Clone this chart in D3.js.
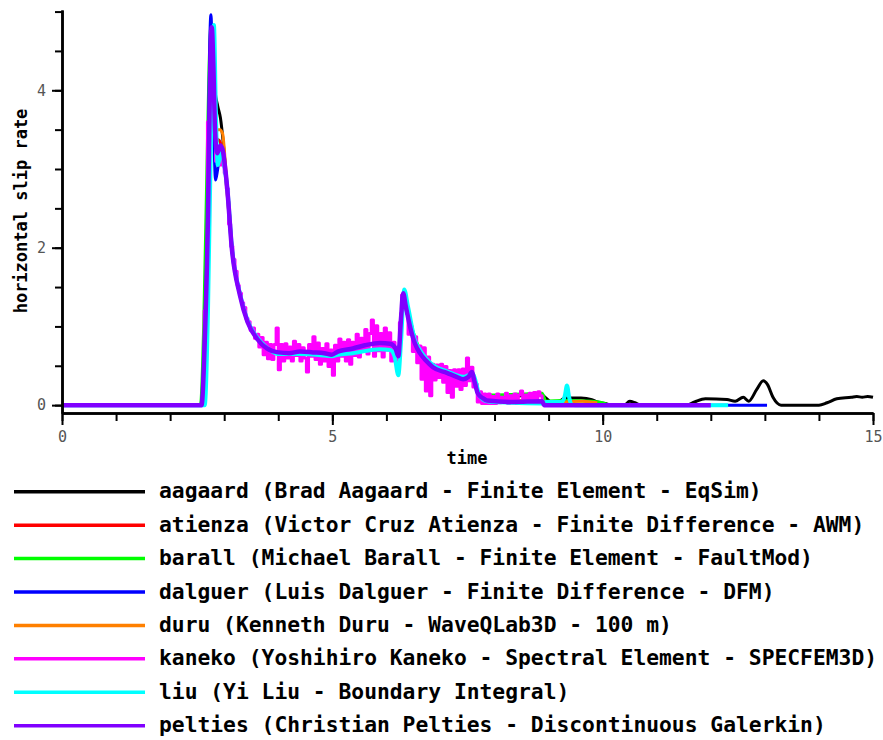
<!DOCTYPE html>
<html>
<head>
<meta charset="utf-8">
<script src="https://cdn.jsdelivr.net/npm/d3@7"></script>
<style>
  body { margin: 0; background: #fff; }
  svg { display: block; }
  text { font-family: "DejaVu Sans Mono", "Liberation Mono", monospace; }
</style>
</head>
<body>
<svg id="chart" width="883" height="740"></svg>
<script>
// ---- series names (legend order) ----
const seriesNames = [
  "aagaard (Brad Aagaard - Finite Element - EqSim)",
  "atienza (Victor Cruz Atienza - Finite Difference - AWM)",
  "barall (Michael Barall - Finite Element - FaultMod)",
  "dalguer (Luis Dalguer - Finite Difference - DFM)",
  "duru (Kenneth Duru - WaveQLab3D - 100 m)",
  "kaneko (Yoshihiro Kaneko - Spectral Element - SPECFEM3D)",
  "liu (Yi Liu - Boundary Integral)",
  "pelties (Christian Pelties - Discontinuous Galerkin)"
];

// ---- axis ticks ----
const xMajorTicks = [0, 5, 10, 15];
const xMinorTicks = [0,1,2,3,4,5,6,7,8,9,10,11,12,13,14,15];
const yMajorTicks = [0, 2, 4];
const yMinorTicks = [0, 0.5, 1, 1.5, 2, 2.5, 3, 3.5, 4, 4.5, 5];

// ---- horizontal slip rate time histories ----
const aagaardT = [0, 2.60, 2.66, 2.71, 2.75, 2.78, 2.83, 2.88, 2.93, 2.98, 3.03, 3.08, 3.14, 3.29, 3.43, 3.61, 3.79, 4.0, 4.4, 4.85,
  4.99, 5.1, 5.38, 5.88, 6.07, 6.17, 6.22, 6.27, 6.31, 6.36, 6.44, 6.53, 6.62, 6.74, 6.86, 7.12, 7.42, 7.52, 7.58, 7.63,
  7.69, 7.78, 7.86, 8.3, 8.6, 8.85, 8.95, 9.05, 9.2, 9.3, 9.6, 9.8, 9.9, 10.05, 10.15, 10.4, 10.5, 10.6, 10.7, 11.55,
  11.7, 11.9, 12.3, 12.45, 12.6, 12.7, 12.85, 12.97, 13.05, 13.15, 13.3, 14.0, 14.15, 14.33, 14.6, 14.7, 14.8, 14.9, 15.0];
const aagaardV = [0, 0, 1.3, 3.2, 4.5, 4.7, 4.0, 3.8, 3.65, 3.35, 2.95, 2.6, 2.05, 1.42, 1.07, 0.85, 0.73, 0.67, 0.68, 0.66,
  0.64, 0.68, 0.72, 0.79, 0.78, 0.72, 0.62, 1.1, 1.42, 1.25, 0.99, 0.78, 0.66, 0.56, 0.48, 0.41, 0.33, 0.36, 0.42, 0.30,
  0.15, 0.10, 0.08, 0.10, 0.13, 0.14, 0.09, 0.04, 0.05, 0.09, 0.09, 0.07, 0.04, 0.02, 0, 0, 0.05, 0.03, 0, 0,
  0.04, 0.08, 0.07, 0.05, 0.10, 0.05, 0.20, 0.31, 0.26, 0.10, 0, 0, 0.03, 0.08, 0.10, 0.11, 0.10, 0.11, 0.10];

const atienzaT = [0, 2.59, 2.65, 2.71, 2.76, 2.80, 2.85, 2.92, 2.98, 3.04, 3.14, 3.29, 3.43, 3.61, 3.79, 4.0, 4.4, 4.85, 4.99, 5.1,
  5.38, 5.88, 6.07, 6.17, 6.22, 6.27, 6.31, 6.36, 6.44, 6.53, 6.62, 6.74, 6.86, 7.12, 7.42, 7.52, 7.58, 7.63, 7.69, 7.78,
  8.0, 8.5, 8.9];
const atienzaV = [0, 0, 1.1, 3.0, 4.7, 4.2, 3.4, 3.35, 3.2, 2.8, 2.0, 1.41, 1.06, 0.85, 0.73, 0.67, 0.68, 0.66, 0.64, 0.68,
  0.72, 0.79, 0.78, 0.72, 0.62, 1.1, 1.41, 1.25, 0.99, 0.79, 0.67, 0.57, 0.49, 0.41, 0.34, 0.37, 0.42, 0.30, 0.15, 0.09,
  0.07, 0.06, 0.05];

const barallT = [0, 2.56, 2.62, 2.68, 2.72, 2.76, 2.80, 2.84, 2.88, 2.93, 2.98, 3.03, 3.06, 3.14, 3.29, 3.43, 3.61, 3.79, 4.0, 4.4,
  4.85, 4.99, 5.1, 5.38, 5.88, 6.07, 6.17, 6.22, 6.27, 6.31, 6.36, 6.44, 6.53, 6.62, 6.74, 6.86, 7.12, 7.42, 7.52, 7.58,
  7.63, 7.69, 7.78, 8.0, 8.5, 8.88, 8.95, 9.3, 9.8, 10.05, 10.1];
const barallV = [0, 0, 1.0, 3.0, 4.3, 4.85, 4.2, 3.5, 3.2, 3.3, 3.2, 2.95, 2.72, 2.0, 1.42, 1.07, 0.85, 0.73, 0.67, 0.68,
  0.66, 0.64, 0.68, 0.72, 0.78, 0.77, 0.72, 0.63, 1.1, 1.40, 1.28, 1.05, 0.86, 0.70, 0.58, 0.50, 0.42, 0.34, 0.37, 0.42,
  0.31, 0.17, 0.13, 0.13, 0.14, 0.15, 0.05, 0.06, 0.05, 0.02, 0];

const dalguerT = [0, 2.58, 2.64, 2.70, 2.73, 2.755, 2.79, 2.84, 2.88, 2.93, 2.98, 3.03, 3.06, 3.14, 3.29, 3.43, 3.61, 3.79, 4.0, 4.4,
  4.85, 4.99, 5.1, 5.38, 5.88, 6.07, 6.17, 6.22, 6.27, 6.31, 6.36, 6.44, 6.53, 6.62, 6.74, 6.86, 7.12, 7.42, 7.52, 7.58,
  7.63, 7.69, 7.78, 7.86, 8.34, 8.9, 9.0, 13.04];
const dalguerV = [0, 0, 1.0, 2.7, 4.5, 4.96, 4.0, 2.86, 3.0, 3.2, 3.1, 2.9, 2.72, 2.0, 1.40, 1.06, 0.84, 0.72, 0.67, 0.68,
  0.66, 0.64, 0.68, 0.72, 0.79, 0.78, 0.72, 0.62, 1.1, 1.42, 1.25, 0.99, 0.78, 0.66, 0.56, 0.48, 0.41, 0.33, 0.36, 0.42,
  0.30, 0.15, 0.09, 0.06, 0.04, 0.02, 0, 0];

const duruT = [0, 2.60, 2.66, 2.72, 2.77, 2.81, 2.85, 2.92, 2.97, 3.03, 3.08, 3.14, 3.29, 3.43, 3.61, 3.79, 4.0, 4.4, 4.85, 4.99,
  5.1, 5.38, 5.88, 6.07, 6.17, 6.22, 6.27, 6.31, 6.36, 6.44, 6.53, 6.62, 6.74, 6.86, 7.12, 7.42, 7.52, 7.58, 7.63, 7.69,
  7.78, 8.0, 8.5, 8.9, 9.3, 9.63, 9.9];
const duruV = [0, 0, 1.2, 3.4, 4.75, 4.47, 3.5, 3.5, 3.45, 3.0, 2.6, 2.02, 1.43, 1.07, 0.85, 0.73, 0.67, 0.68, 0.66, 0.64,
  0.68, 0.72, 0.79, 0.78, 0.72, 0.62, 1.1, 1.42, 1.25, 0.99, 0.79, 0.67, 0.57, 0.49, 0.41, 0.34, 0.37, 0.42, 0.30, 0.15,
  0.09, 0.07, 0.06, 0.05, 0.04, 0.05, 0.03];

// kaneko: rupture front samples, then an evenly sampled noisy record
const kanekoHeadT = [0, 2.60, 2.66, 2.72, 2.77, 2.82, 2.86, 2.90, 2.94, 2.98, 3.02, 3.06, 3.10, 3.14, 3.18, 3.22, 3.26];
const kanekoHeadV = [0, 0, 1.2, 3.6, 4.75, 3.9, 3.10, 3.25, 3.05, 3.20, 2.95, 2.75, 2.30, 2.02, 1.85, 1.70, 1.52];
const kanekoStart = 3.30;
const kanekoStep = 0.04;
const kanekoV = [
  1.42, 1.30, 1.24, 1.10, 1.06, 0.95, 0.98, 0.85, 0.90, 0.74,
  0.86, 0.64, 0.80, 0.59, 0.77, 0.58, 0.77, 0.98, 0.45, 0.77,
  0.56, 0.78, 0.60, 0.74, 0.56, 0.81, 0.63, 0.77, 0.56, 0.73,
  0.60, 0.42, 0.77, 0.62, 0.87, 0.58, 0.79, 0.52, 0.72, 0.56,
  0.78, 0.49, 0.70, 0.38, 0.76, 0.56, 0.84, 0.62, 0.80, 0.56,
  0.83, 0.52, 0.80, 0.63, 0.90, 0.61, 0.85, 0.68, 0.96, 0.65,
  0.91, 1.08, 0.62, 1.01, 0.69, 0.91, 0.61, 0.98, 0.70, 0.92,
  0.56, 0.80, 0.58, 0.57, 1.05, 1.40, 1.24, 1.21, 0.90, 1.00,
  0.68, 0.87, 0.54, 0.75, 0.33, 0.73, 0.18, 0.61, 0.12, 0.52,
  0.32, 0.51, 0.35, 0.52, 0.29, 0.49, 0.16, 0.44, 0.10, 0.45,
  0.24, 0.45, 0.20, 0.46, 0.25, 0.60, 0.31, 0.48, 0.23, 0.27,
  0.04, 0.17, 0.02, 0.14, 0.02, 0.14, 0.02, 0.11, 0.02, 0.14,
  0.03, 0.10, 0.06, 0.15, 0.02, 0.12, 0.05, 0.14, 0.02, 0.13,
  0.18, 0.03, 0.13, 0.06, 0.15, 0.03, 0.16, 0.08, 0.17, 0.12,
  0.03];

const liuT = [0, 2.64, 2.70, 2.76, 2.81, 2.85, 2.88, 2.95, 3.0, 3.06, 3.14, 3.29, 3.43, 3.61, 3.79, 4.0, 4.4, 4.85, 4.99, 5.1,
  5.38, 5.88, 6.07, 6.15, 6.22, 6.27, 6.33, 6.40, 6.53, 6.62, 6.74, 6.86, 7.12, 7.42, 7.52, 7.60, 7.66, 7.72, 7.86, 8.3,
  8.88, 8.95, 9.25, 9.30, 9.34, 9.38, 9.42, 9.5, 12.32];
const liuV = [0, 0, 1.2, 3.6, 4.83, 3.6, 3.05, 3.25, 3.05, 2.74, 2.02, 1.42, 1.08, 0.86, 0.73, 0.65, 0.65, 0.63, 0.62, 0.64,
  0.66, 0.71, 0.70, 0.62, 0.38, 0.8, 1.47, 1.25, 0.82, 0.70, 0.59, 0.51, 0.43, 0.36, 0.38, 0.40, 0.28, 0.12, 0.05, 0.03,
  0.02, 0.04, 0.04, 0.12, 0.25, 0.10, 0.01, 0, 0];

const peltiesT = [0, 2.58, 2.64, 2.70, 2.74, 2.77, 2.80, 2.83, 2.87, 2.93, 2.97, 3.02, 3.06, 3.14, 3.29, 3.43, 3.61, 3.79, 4.0, 4.2,
  4.4, 4.64, 4.85, 4.99, 5.1, 5.38, 5.6, 5.88, 6.07, 6.17, 6.22, 6.27, 6.31, 6.36, 6.44, 6.53, 6.62, 6.74, 6.86, 7.12,
  7.30, 7.42, 7.52, 7.58, 7.63, 7.69, 7.78, 7.86, 8.34, 8.88, 8.92, 12.0];
const peltiesV = [0, 0, 0.8, 2.4, 4.2, 4.80, 4.3, 3.5, 3.2, 3.30, 3.25, 3.0, 2.72, 2.0, 1.40, 1.06, 0.84, 0.72, 0.67, 0.66,
  0.68, 0.67, 0.66, 0.64, 0.68, 0.72, 0.76, 0.79, 0.78, 0.72, 0.62, 1.1, 1.42, 1.25, 0.99, 0.78, 0.66, 0.56, 0.48, 0.41,
  0.36, 0.33, 0.36, 0.42, 0.30, 0.15, 0.09, 0.06, 0.04, 0.05, 0, 0];

// ---- assemble point lists ----
function pairs(ts, vs) {
  const n = Math.min(ts.length, vs.length);
  return d3.range(n).map(i => [ts[i], vs[i]]);
}
const kanekoT = kanekoHeadT.concat(kanekoV.map((_, i) => +(kanekoStart + i * kanekoStep).toFixed(2)));
const kanekoAll = kanekoHeadV.concat(kanekoV);

const colors = ["#000000", "#ff0000", "#00ff00", "#0000ff", "#ff8000", "#ff00ff", "#00ffff", "#8000ff"];
const series = [
  { pts: pairs(aagaardT, aagaardV), w: 3, curve: d3.curveMonotoneX },
  { pts: pairs(atienzaT, atienzaV), w: 3, curve: d3.curveMonotoneX },
  { pts: pairs(barallT, barallV), w: 3, curve: d3.curveMonotoneX },
  { pts: pairs(dalguerT, dalguerV), w: 3, curve: d3.curveMonotoneX },
  { pts: pairs(duruT, duruV), w: 3, curve: d3.curveMonotoneX },
  { pts: pairs(kanekoT, kanekoAll), w: 3, curve: d3.curveStep },
  { pts: pairs(liuT, liuV), w: 4, curve: d3.curveMonotoneX },
  { pts: pairs(peltiesT, peltiesV), w: 4.5, curve: d3.curveMonotoneX }
];

// ---- layout ----
const svg = d3.select("#chart");
const x = d3.scaleLinear().domain([0, 15]).range([62, 873]);
const y = d3.scaleLinear().domain([-0.1, 5.02]).range([413, 10]);

// series lines
const plot = svg.append("g");
series.forEach((s, i) => {
  plot.append("path")
    .datum(s.pts)
    .attr("fill", "none")
    .attr("stroke", colors[i])
    .attr("stroke-width", s.w)
    .attr("stroke-linejoin", "round")
    .attr("d", d3.line().x(d => x(d[0])).y(d => y(d[1])).curve(s.curve));
});

// axes
const axisStyle = g => {
  g.selectAll(".domain").attr("stroke", "#000").attr("stroke-width", 2.5);
  g.selectAll(".tick line").attr("stroke", "#000").attr("stroke-width", 2);
  g.selectAll(".tick text").attr("fill", "#555").style("font-size", "15px")
    .style("font-family", "'DejaVu Sans Mono', monospace");
};

svg.append("g").attr("transform", "translate(0,413)")
  .call(d3.axisBottom(x).tickValues(xMinorTicks).tickSize(8).tickSizeOuter(0).tickFormat(""))
  .call(axisStyle);
svg.append("g").attr("transform", "translate(0,413)")
  .call(d3.axisBottom(x).tickValues(xMajorTicks).tickSize(12).tickSizeOuter(0).tickPadding(6).tickFormat(d3.format("d")))
  .call(axisStyle);

svg.append("g").attr("transform", "translate(62,0)")
  .call(d3.axisLeft(y).tickValues(yMinorTicks).tickSize(7).tickSizeOuter(0).tickFormat(""))
  .call(axisStyle);
svg.append("g").attr("transform", "translate(62,0)")
  .call(d3.axisLeft(y).tickValues(yMajorTicks).tickSize(10).tickSizeOuter(0).tickPadding(6).tickFormat(d3.format("d")))
  .call(axisStyle);

// axis titles
svg.append("text")
  .attr("x", 467).attr("y", 464)
  .attr("text-anchor", "middle")
  .style("font-size", "17px").style("font-weight", "bold")
  .text("time");
svg.append("text")
  .attr("transform", "translate(27,211) rotate(-90)")
  .attr("text-anchor", "middle")
  .style("font-size", "17px").style("font-weight", "bold")
  .text("horizontal slip rate");

// legend
const legend = svg.append("g");
seriesNames.forEach((name, i) => {
  const ly = 491.7 + i * 33.43;
  legend.append("line")
    .attr("x1", 14).attr("x2", 145).attr("y1", ly).attr("y2", ly)
    .attr("stroke", colors[i]).attr("stroke-width", 3.5);
  legend.append("text")
    .attr("x", 159).attr("y", ly + 6.6)
    .style("font-size", "21.3px").style("font-weight", "bold")
    .attr("fill", "#000")
    .text(name);
});
</script>
</body>
</html>
